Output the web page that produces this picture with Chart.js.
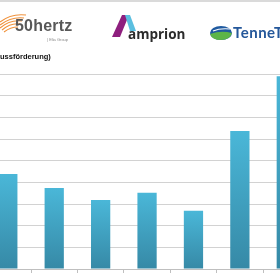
<!DOCTYPE html>
<html>
<head>
<meta charset="utf-8">
<script src="https://cdn.jsdelivr.net/npm/chart.js@4/dist/chart.umd.min.js"></script>
<style>
  html, body { margin: 0; width: 280px; height: 280px; overflow: hidden; background: #fff; font-family: "Liberation Sans", Arial, sans-serif; }
  #topline { position: absolute; left: 0; top: 0; width: 280px; height: 2px; background: #dadada; }
  #wrap { position: absolute; left: -60px; top: 0; width: 400px; height: 290px; }
  .abs { position: absolute; white-space: nowrap; z-index: 2; }
  #hz { left: 15px; top: 17px; font-size: 16px; font-weight: bold; color: #585858; letter-spacing: 0.2px; }
  #elia { left: 47px; top: 37px; font-size: 4px; color: #888; }
  #amp { left: 128px; top: 25px; font-size: 13.5px; color: #2b2b2b; font-weight: bold; font-family: "Open Sans", sans-serif; }
  #ten { left: 233px; top: 23px; font-size: 15px; color: #24579a; font-weight: bold; font-family: "Lato", sans-serif; letter-spacing: 0.5px; }
  #title { left: 0; top: 52px; font-size: 7.5px; font-weight: bold; color: #111; }
  svg { position: absolute; left: 0; top: 0; z-index: 2; }
</style>
</head>
<body>
<div id="topline"></div>
<div id="wrap"><canvas id="myChart" width="400" height="290"></canvas></div>

<svg width="280" height="60">
  <!-- 50hertz swoosh -->
  <g fill="none" stroke="#f0913a" stroke-width="1.1">
    <path d="M0 25 C8 19 16 17 24 18"/>
    <path d="M0 28 C7 22 15 20 22 21"/>
    <path d="M2 30 C8 25 14 23 20 24"/>
    <path d="M0 22 C9 15 18 14 26 15"/>
    <path d="M4 32 C9 28 13 27 18 27"/>
  </g>
  <!-- amprion A -->
  <polygon points="112,37 120,37 129,15 122,15" fill="#8e1f7e"/>
  <polygon points="125,15 130,15 136,31 130,31" fill="#5bbfe0"/>
  <!-- tennet globe -->
  <ellipse cx="221" cy="33" rx="11" ry="7" fill="#1f5aa0"/>
  <path d="M210 34 Q221 30 232 33 Q230 40 221 40 Q212 40 210 34 Z" fill="#5cb548"/>
  <path d="M213 31 Q220 28 230 29" stroke="#fff" stroke-width="1.2" fill="none"/>
</svg>

<div class="abs" id="hz">50hertz</div>
<div class="abs" id="elia">| Elia Group</div>
<div class="abs" id="amp">amprion</div>
<div class="abs" id="ten">TenneT</div>
<div class="abs" id="title">ussförderung)</div>

<script>
const labels = ['2010', '2011', '2012', '2013', '2014', '2015', '2016']
const values = [438, 374, 318, 352, 269, 637, 890]
const y_max = 900
const y_step = 100

const barColor = (ctx) => {
  const chart = ctx.chart
  const y = chart.scales.y
  if (!chart.chartArea || !y || ctx.raw == null) return '#44aed0'
  const top = y.getPixelForValue(ctx.raw)
  const bottom = y.getPixelForValue(0)
  const g = chart.ctx.createLinearGradient(0, top, 0, bottom)
  g.addColorStop(0, '#4ab7d8')
  g.addColorStop(1, '#3689a6')
  return g
}

const data = {
  labels: labels,
  datasets: [{
    data: values,
    backgroundColor: barColor,
    borderWidth: 0,
    categoryPercentage: 1,
    barPercentage: 0.415
  }]
}

const config = {
  type: 'bar',
  data: data,
  options: {
    responsive: false,
    animation: false,
    layout: { padding: { left: 44.6, right: 30.5, top: 74, bottom: 17 } },
    plugins: { legend: { display: false }, tooltip: { enabled: false } },
    scales: {
      x: {
        grid: { display: true, drawOnChartArea: false, drawTicks: true, tickLength: 4, color: '#bfbfbf' },
        border: { color: '#bfbfbf' },
        ticks: { display: false }
      },
      y: {
        min: 0,
        max: y_max,
        ticks: { stepSize: y_step, display: false },
        grid: { color: '#d2d2d2', drawTicks: false },
        border: { display: false }
      }
    }
  }
}

const myChart = new Chart(document.getElementById('myChart'), config)
</script>
</body>
</html>
